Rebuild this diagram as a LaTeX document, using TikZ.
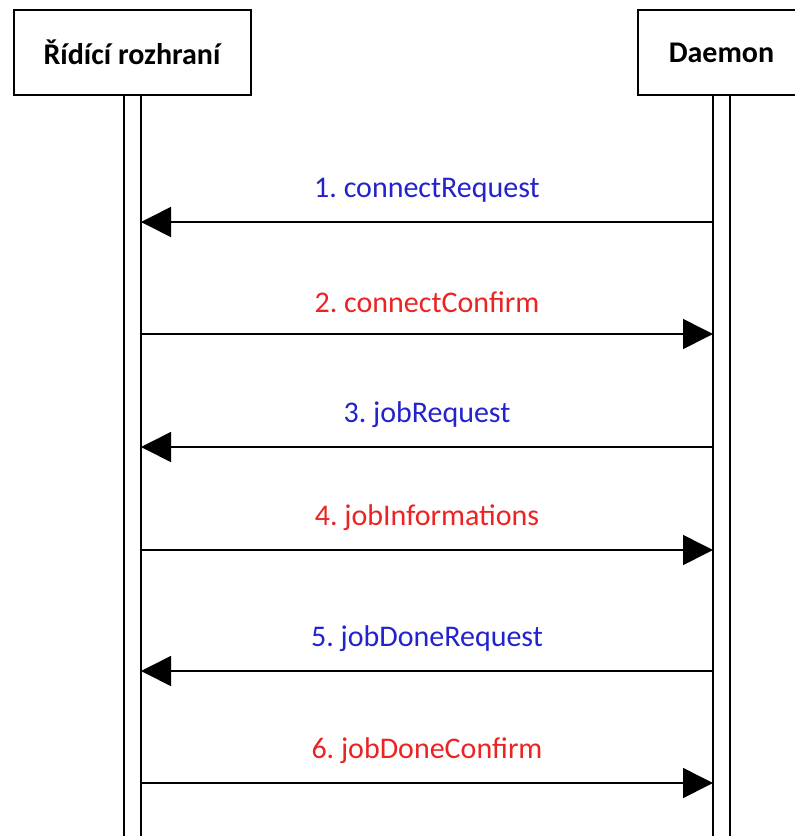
\documentclass[tikz,border=0pt]{standalone}
\usepackage{fontspec}
\setmainfont{Carlito}
\usetikzlibrary{arrows.meta}
\definecolor{reqblue}{RGB}{35,35,205}
\definecolor{cnfred}{RGB}{235,35,35}
\frenchspacing

\begin{document}
\begin{tikzpicture}[x=0.5pt,y=-0.5pt,
    actor/.style={draw,line width=1pt,fill=white,font=\fontsize{15}{18}\selectfont\bfseries,minimum height=42.5pt,inner sep=0pt},
    life/.style={line width=0.8pt},
    msg/.style={line width=0.8pt,-{Triangle[length=15pt,width=15pt]}},
    lbl/.style={font=\fontsize{15}{18}\selectfont,yshift=16pt}]

    \clip (0,0) rectangle (795,836);

    \draw[life] (124,95) -- (124,850) (141,95) -- (141,850);
    \draw[life] (713,95) -- (713,850) (730,95) -- (730,850);

    \node[actor,minimum width=118.5pt] at (132,52.5) (RI) {Řídící rozhraní};
    \node[actor,minimum width=83.5pt] at (721.5,52.5) (DA) {Daemon};

    \coordinate (R1) at (141,222); \coordinate (D1) at (713,222);
    \coordinate (R2) at (141,334); \coordinate (D2) at (713,334);
    \coordinate (R3) at (141,447); \coordinate (D3) at (713,447);
    \coordinate (R4) at (141,550); \coordinate (D4) at (713,550);
    \coordinate (R5) at (141,671); \coordinate (D5) at (713,671);
    \coordinate (R6) at (141,783); \coordinate (D6) at (713,783);

    \draw[msg] (D1) -- node[lbl,text=reqblue] {1. connectRequest} (R1);
    \draw[msg] (R2) -- node[lbl,text=cnfred] {2. connectConfirm} (D2);
    \draw[msg] (D3) -- node[lbl,text=reqblue] {3. jobRequest} (R3);
    \draw[msg] (R4) -- node[lbl,text=cnfred] {4. jobInformations} (D4);
    \draw[msg] (D5) -- node[lbl,text=reqblue] {5. jobDoneRequest} (R5);
    \draw[msg] (R6) -- node[lbl,text=cnfred] {6. jobDoneConfirm} (D6);
        \end{tikzpicture}
\end{document}
